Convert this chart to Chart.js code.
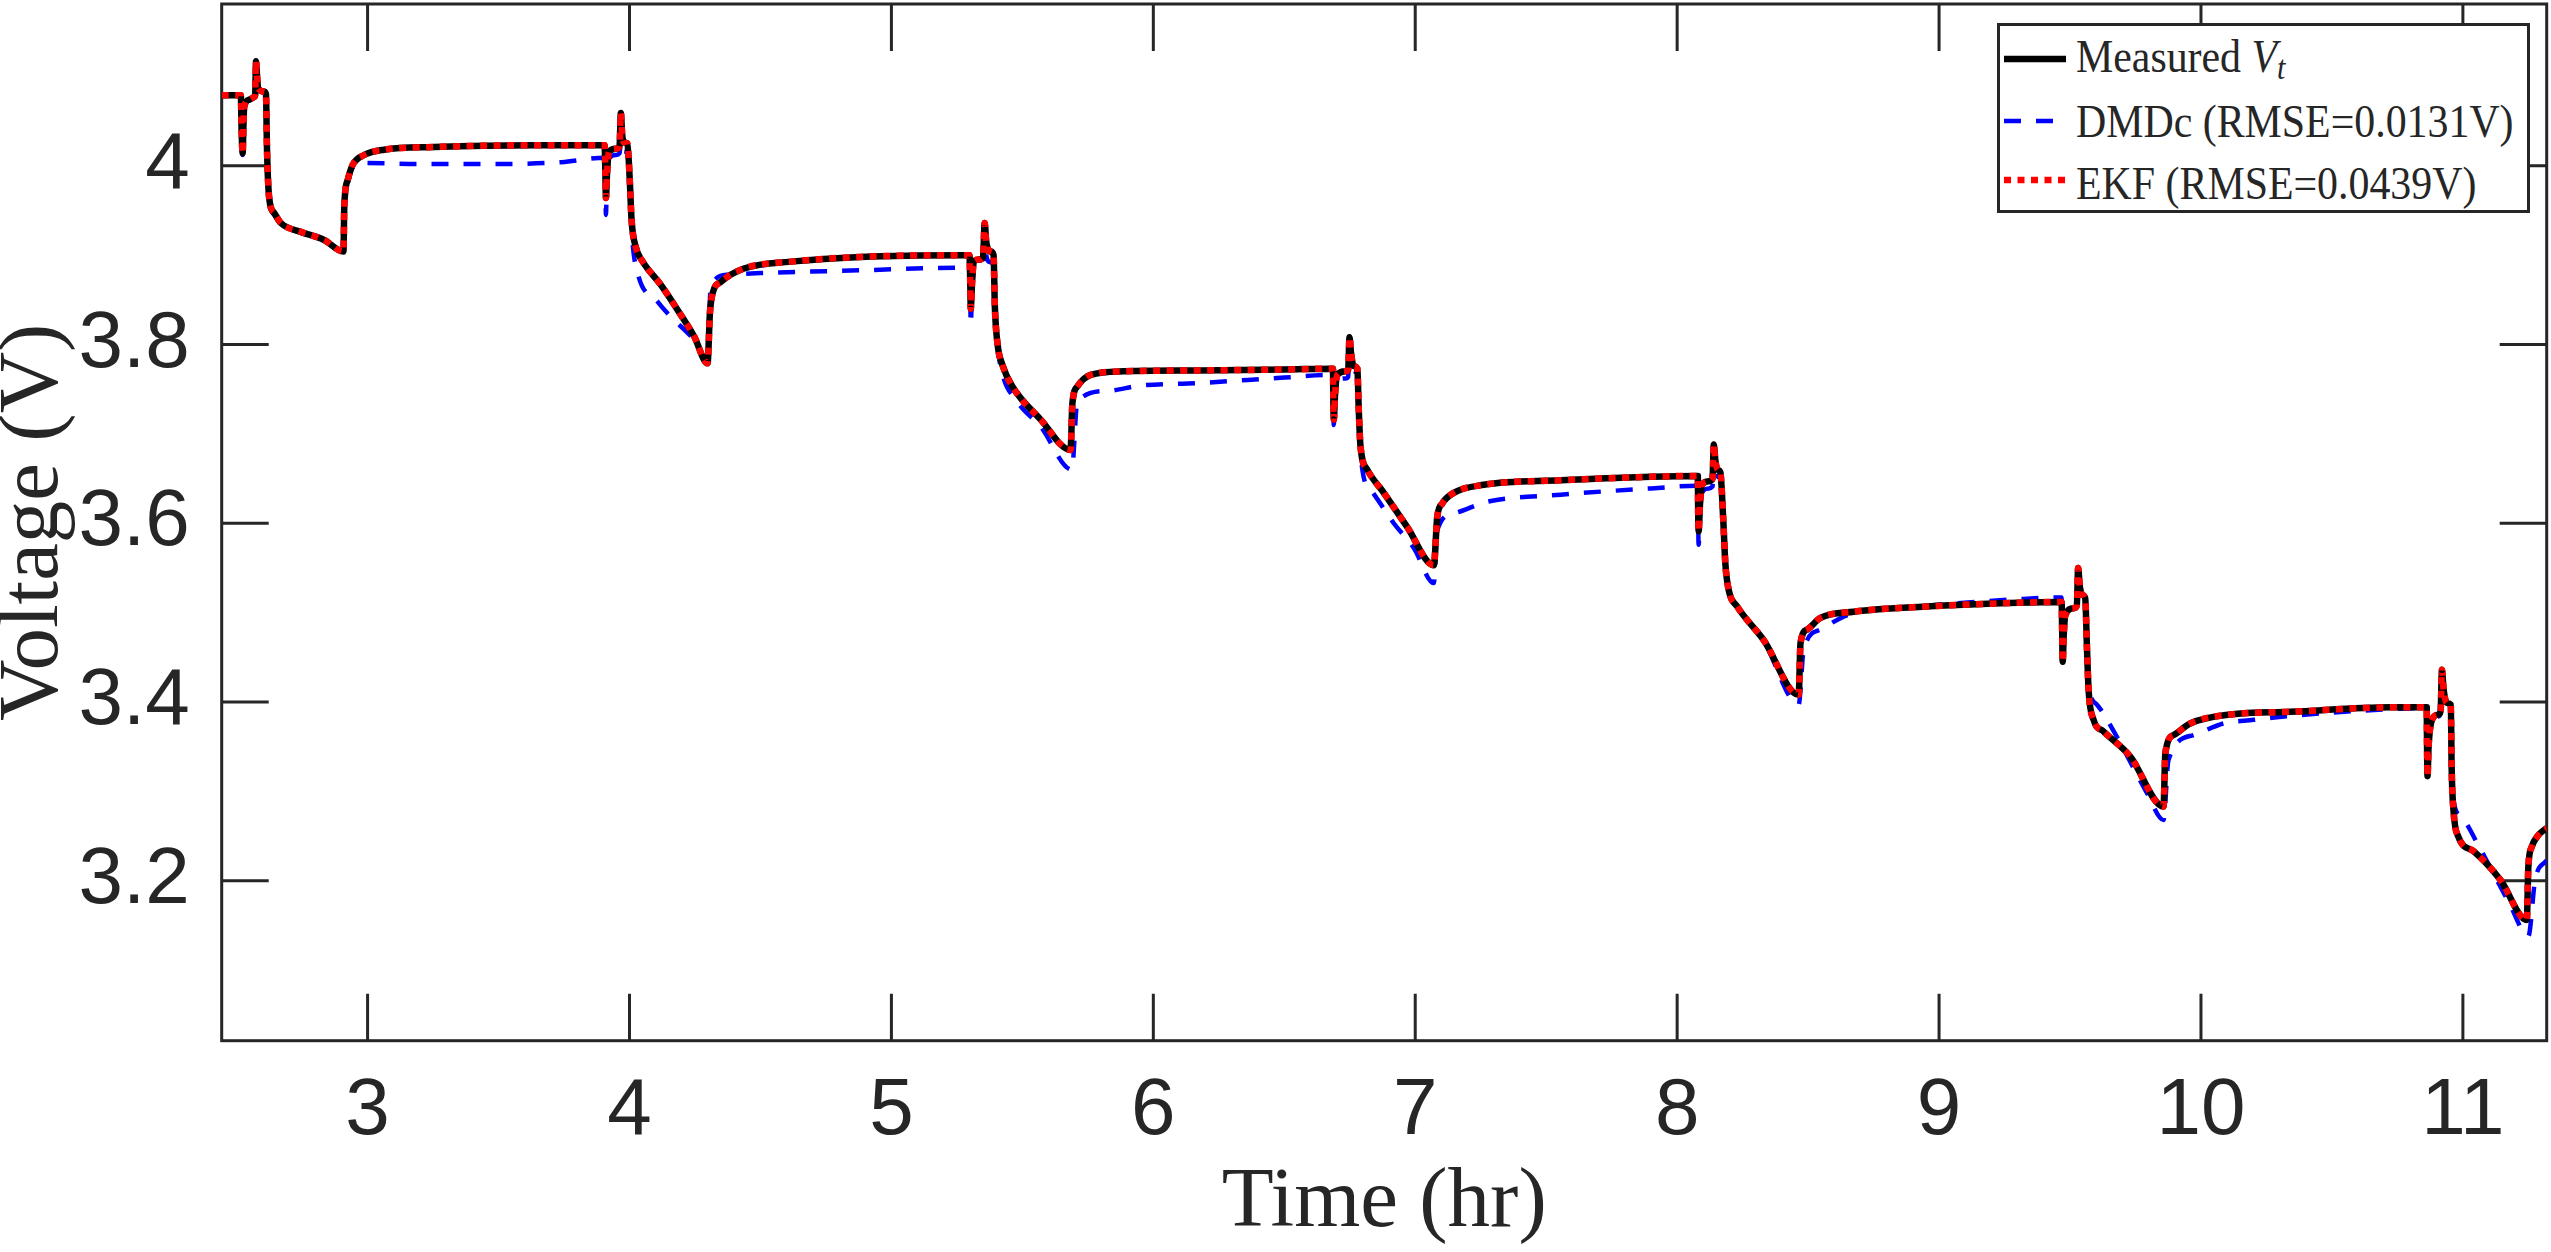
<!DOCTYPE html>
<html>
<head>
<meta charset="utf-8">
<title>Voltage vs time</title>
<script src="https://cdn.jsdelivr.net/npm/chart.js@4.4.1/dist/chart.umd.min.js"></script>
<style>
  html, body { margin: 0; padding: 0; background: #fff; }
  #wrap { position: relative; width: 2551px; height: 1252px; }
  #legend {
    position: absolute; left: 1997px; top: 23px; width: 533px; height: 190px;
    box-sizing: border-box; border: 3px solid #262626; background: #fff;
    font-family: "Liberation Serif", "Times New Roman", serif; color: #262626;
  }
  #legend svg { position: absolute; left: 4px; }
  #legend .txt {
    position: absolute; left: 76px; font-size: 46px; line-height: 46px;
    white-space: nowrap; transform: scaleX(0.91); transform-origin: left center;
  }
  #legend sub { font-size: 0.72em; line-height: 0; vertical-align: -0.22em; font-style: italic; }
</style>
</head>
<body>
<div id="wrap">
  <canvas id="chart" width="2551" height="1252" style="width:2551px;height:1252px"></canvas>
  <div id="legend">
    <svg style="top:23px" width="62" height="20"><line x1="0" y1="10" x2="62" y2="10" stroke="#000" stroke-width="6.5"/></svg>
    <span class="txt" style="top:8px">Measured <i>V</i><sub>t</sub></span>
    <svg style="top:85px" width="62" height="20"><line x1="0" y1="10" x2="62" y2="10" stroke="#0000ff" stroke-width="4.5" stroke-dasharray="17 15"/></svg>
    <span class="txt" style="top:73px">DMDc (RMSE=0.0131V)</span>
    <svg style="top:144px" width="62" height="20"><line x1="0" y1="10" x2="62" y2="10" stroke="#ff0000" stroke-width="6.5" stroke-dasharray="7 6.5"/></svg>
    <span class="txt" style="top:135px">EKF (RMSE=0.0439V)</span>
  </div>
</div>
<script>
// time (hr) and voltage (V)
const timeMeasured = [
  2.443, 2.516, 2.519, 2.523, 2.526, 2.529, 2.548, 2.567, 2.571, 2.574, 2.578, 2.582, 2.605, 2.612,
  2.616, 2.624, 2.644, 2.669, 2.745, 2.834, 2.908, 2.911, 2.924, 2.943, 2.987, 3.063, 3.254, 3.636,
  3.905, 3.908, 3.910, 3.914, 3.922, 3.948, 3.962, 3.967, 3.972, 3.980, 3.992, 4.001, 4.008, 4.024,
  4.050, 4.119, 4.183, 4.247, 4.298, 4.307, 4.317, 4.349, 4.437, 4.628, 4.883, 5.264, 5.298, 5.301,
  5.303, 5.308, 5.315, 5.334, 5.350, 5.356, 5.362, 5.370, 5.379, 5.390, 5.395, 5.405, 5.424, 5.462,
  5.570, 5.684, 5.691, 5.710, 5.761, 5.888, 6.181, 6.500, 6.686, 6.687, 6.689, 6.694, 6.702, 6.734,
  6.744, 6.749, 6.755, 6.765, 6.779, 6.784, 6.791, 6.817, 6.880, 6.969, 7.071, 7.084, 7.103, 7.147,
  7.262, 7.555, 7.900, 8.079, 8.080, 8.082, 8.087, 8.095, 8.121, 8.135, 8.140, 8.146, 8.155, 8.165,
  8.176, 8.184, 8.197, 8.229, 8.331, 8.464, 8.471, 8.496, 8.547, 8.674, 8.967, 9.300, 9.468, 9.470,
  9.472, 9.476, 9.482, 9.514, 9.526, 9.531, 9.537, 9.547, 9.558, 9.565, 9.571, 9.590, 9.628, 9.730,
  9.857, 9.864, 9.896, 9.959, 10.112, 10.341, 10.723, 10.862, 10.863, 10.865, 10.869, 10.882, 10.907,
  10.915, 10.920, 10.926, 10.939, 10.954, 10.957, 10.964, 10.983, 11.041, 11.143, 11.244, 11.250,
  11.263, 11.288, 11.320
];
const voltMeasured = [
  4.079, 4.079, 4.040, 4.014, 4.045, 4.066, 4.074, 4.077, 4.080, 4.117, 4.100, 4.087, 4.083, 4.080,
  4.018, 3.965, 3.947, 3.936, 3.926, 3.917, 3.904, 3.954, 3.984, 4.001, 4.012, 4.018, 4.021, 4.023,
  4.023, 3.990, 3.964, 3.990, 4.016, 4.019, 4.022, 4.059, 4.035, 4.026, 4.025, 3.984, 3.939, 3.909,
  3.893, 3.867, 3.839, 3.809, 3.779, 3.835, 3.857, 3.870, 3.885, 3.893, 3.898, 3.900, 3.900, 3.870,
  3.840, 3.870, 3.893, 3.895, 3.898, 3.936, 3.915, 3.906, 3.904, 3.900, 3.842, 3.801, 3.777, 3.753,
  3.716, 3.682, 3.734, 3.753, 3.766, 3.770, 3.771, 3.772, 3.773, 3.745, 3.716, 3.745, 3.766, 3.770,
  3.772, 3.808, 3.790, 3.776, 3.773, 3.730, 3.686, 3.660, 3.634, 3.596, 3.553, 3.607, 3.622, 3.634,
  3.643, 3.648, 3.652, 3.653, 3.620, 3.591, 3.620, 3.643, 3.647, 3.650, 3.688, 3.670, 3.660, 3.657,
  3.604, 3.555, 3.525, 3.507, 3.469, 3.408, 3.466, 3.481, 3.494, 3.501, 3.507, 3.511, 3.512, 3.480,
  3.445, 3.475, 3.497, 3.505, 3.508, 3.550, 3.530, 3.520, 3.516, 3.458, 3.413, 3.380, 3.367, 3.339,
  3.283, 3.343, 3.363, 3.376, 3.386, 3.389, 3.394, 3.394, 3.355, 3.317, 3.350, 3.380, 3.386,
  3.390, 3.436, 3.415, 3.399, 3.397, 3.328, 3.279, 3.249, 3.233, 3.201, 3.156, 3.216,
  3.238, 3.251, 3.259
];
// EKF estimate sits on top of the measurement (same time stamps)
const voltEkf = [
  4.079, 4.079, 4.040, 4.014, 4.045, 4.066, 4.074, 4.077, 4.080, 4.117, 4.100, 4.087, 4.083, 4.080,
  4.018, 3.965, 3.947, 3.936, 3.926, 3.917, 3.904, 3.954, 3.984, 4.001, 4.012, 4.018, 4.021, 4.023,
  4.023, 3.990, 3.964, 3.990, 4.016, 4.019, 4.022, 4.059, 4.035, 4.026, 4.025, 3.984, 3.939, 3.909,
  3.893, 3.867, 3.839, 3.809, 3.779, 3.835, 3.857, 3.870, 3.885, 3.893, 3.898, 3.900, 3.900, 3.870,
  3.840, 3.870, 3.893, 3.895, 3.898, 3.936, 3.915, 3.906, 3.904, 3.900, 3.842, 3.801, 3.777, 3.753,
  3.716, 3.682, 3.734, 3.753, 3.766, 3.770, 3.771, 3.772, 3.773, 3.745, 3.716, 3.745, 3.766, 3.770,
  3.772, 3.808, 3.790, 3.776, 3.773, 3.730, 3.686, 3.660, 3.634, 3.596, 3.553, 3.607, 3.622, 3.634,
  3.643, 3.648, 3.652, 3.653, 3.620, 3.591, 3.620, 3.643, 3.647, 3.650, 3.688, 3.670, 3.660, 3.657,
  3.604, 3.555, 3.525, 3.507, 3.469, 3.408, 3.466, 3.481, 3.494, 3.501, 3.507, 3.511, 3.512, 3.480,
  3.445, 3.475, 3.497, 3.505, 3.508, 3.550, 3.530, 3.520, 3.516, 3.458, 3.413, 3.380, 3.367, 3.339,
  3.283, 3.343, 3.363, 3.376, 3.386, 3.389, 3.394, 3.394, 3.355, 3.317, 3.350, 3.380, 3.386,
  3.390, 3.436, 3.415, 3.399, 3.397, 3.328, 3.279, 3.249, 3.233, 3.201, 3.156, 3.216,
  3.238, 3.251, 3.259
];
const timeDmdc = [
  2.443, 2.516, 2.519, 2.523, 2.526, 2.529, 2.548, 2.567, 2.571, 2.574, 2.578, 2.582, 2.605, 2.612,
  2.616, 2.624, 2.644, 2.669, 2.745, 2.834, 2.908, 2.911, 2.924, 2.943, 2.987, 3.200, 3.500, 3.740,
  3.905, 3.908, 3.910, 3.914, 3.922, 3.948, 3.962, 3.967, 3.972, 3.980, 3.992, 4.001, 4.011, 4.031,
  4.107, 4.158, 4.247, 4.298, 4.310, 4.374, 4.501, 4.883, 5.264, 5.298, 5.301, 5.303, 5.308, 5.315,
  5.334, 5.350, 5.356, 5.362, 5.370, 5.379, 5.390, 5.395, 5.405, 5.417, 5.481, 5.570, 5.689, 5.710,
  5.824, 5.951, 6.181, 6.500, 6.686, 6.687, 6.689, 6.694, 6.702, 6.734, 6.744, 6.749, 6.755, 6.765,
  6.779, 6.784, 6.798, 6.836, 6.918, 6.995, 7.071, 7.084, 7.147, 7.275, 7.555, 7.900, 8.079, 8.080,
  8.082, 8.087, 8.095, 8.121, 8.135, 8.140, 8.146, 8.155, 8.165, 8.176, 8.184, 8.197, 8.229, 8.331,
  8.464, 8.483, 8.547, 8.649, 8.967, 9.300, 9.468, 9.470, 9.472, 9.476, 9.482, 9.514, 9.526, 9.531,
  9.537, 9.547, 9.558, 9.565, 9.571, 9.603, 9.679, 9.794, 9.857, 9.876, 9.972, 10.086, 10.201,
  10.328, 10.723, 10.862, 10.863, 10.865, 10.869, 10.882, 10.907, 10.915, 10.920, 10.926, 10.939,
  10.954, 10.957, 10.964, 10.994, 11.062, 11.177, 11.250, 11.276, 11.320
];
const voltDmdc = [
  4.079, 4.079, 4.040, 4.012, 4.045, 4.064, 4.073, 4.076, 4.079, 4.112, 4.098, 4.086, 4.082, 4.079,
  4.016, 3.962, 3.945, 3.935, 3.925, 3.916, 3.903, 3.950, 3.980, 3.998, 4.003, 4.002, 4.002, 4.004,
  4.009, 3.975, 3.945, 3.985, 4.008, 4.012, 4.014, 4.026, 4.020, 4.016, 4.015, 3.975, 3.917, 3.880,
  3.848, 3.831, 3.805, 3.783, 3.865, 3.878, 3.880, 3.883, 3.886, 3.886, 3.850, 3.822, 3.860, 3.883,
  3.884, 3.886, 3.915, 3.900, 3.893, 3.892, 3.888, 3.840, 3.800, 3.775, 3.736, 3.708, 3.660, 3.736,
  3.748, 3.754, 3.757, 3.763, 3.766, 3.740, 3.710, 3.740, 3.760, 3.762, 3.764, 3.799, 3.785, 3.770,
  3.768, 3.725, 3.660, 3.635, 3.600, 3.572, 3.533, 3.592, 3.611, 3.624, 3.632, 3.639, 3.642, 3.610,
  3.576, 3.610, 3.634, 3.639, 3.641, 3.676, 3.662, 3.652, 3.650, 3.600, 3.553, 3.524, 3.506, 3.468,
  3.397, 3.458, 3.481, 3.497, 3.508, 3.515, 3.517, 3.480, 3.445, 3.475, 3.497, 3.505, 3.508, 3.540,
  3.525, 3.518, 3.516, 3.460, 3.420, 3.397, 3.361, 3.298, 3.268, 3.335, 3.363, 3.376, 3.380,
  3.384, 3.392, 3.393, 3.355, 3.317, 3.350, 3.378, 3.384, 3.388, 3.425, 3.410, 3.398,
  3.396, 3.330, 3.290, 3.272, 3.238, 3.175, 3.138, 3.201, 3.223
];
const seriesNames = ["Measured Vt", "DMDc (RMSE=0.0131V)", "EKF (RMSE=0.0439V)"];
const xTickValues = [3, 4, 5, 6, 7, 8, 9, 10, 11];
const yTickValues = [3.2, 3.4, 3.6, 3.8, 4.0];

const axisColor = "#262626";
const tickLen = 47;

const toPoints = (ts, vs) => ts.map((t, i) => ({ x: t, y: vs[i] }));

// MATLAB style box with inward ticks on all four sides
const boxPlugin = {
  id: "matlabBox",
  beforeDatasetsDraw(chart) {
    const { ctx, chartArea: a, scales } = chart;
    ctx.save();
    ctx.strokeStyle = axisColor;
    ctx.lineWidth = 3;
    ctx.beginPath();
    scales.x.ticks.forEach(t => {
      const px = scales.x.getPixelForValue(t.value);
      ctx.moveTo(px, a.bottom); ctx.lineTo(px, a.bottom - tickLen);
      ctx.moveTo(px, a.top); ctx.lineTo(px, a.top + tickLen);
    });
    scales.y.ticks.forEach(t => {
      const py = scales.y.getPixelForValue(t.value);
      ctx.moveTo(a.left, py); ctx.lineTo(a.left + tickLen, py);
      ctx.moveTo(a.right, py); ctx.lineTo(a.right - tickLen, py);
    });
    ctx.stroke();
    ctx.strokeRect(a.left, a.top, a.right - a.left, a.bottom - a.top);
    ctx.restore();
  }
};

// keep the plot box where the figure has it: no extra room for tick labels
const noPad = s => { s.paddingTop = 0; s.paddingBottom = 0; s.paddingLeft = 0; s.paddingRight = 0; };

const lineDefaults = { pointRadius: 0, borderJoinStyle: "round", cubicInterpolationMode: "monotone", fill: false };

new Chart(document.getElementById("chart"), {
  type: "line",
  plugins: [boxPlugin],
  data: {
    datasets: [
      { ...lineDefaults, label: seriesNames[0], data: toPoints(timeMeasured, voltMeasured),
        borderColor: "#000000", borderWidth: 6.5, order: 2 },
      { ...lineDefaults, label: seriesNames[1], data: toPoints(timeDmdc, voltDmdc),
        borderColor: "#0000ff", borderWidth: 4.5, borderDash: [17, 15], order: 3 },
      { ...lineDefaults, label: seriesNames[2], data: toPoints(timeMeasured, voltEkf),
        borderColor: "#ff0000", borderWidth: 6.5, borderDash: [7, 6.5], order: 1 }
    ]
  },
  options: {
    responsive: false,
    devicePixelRatio: 1,
    animation: false,
    events: [],
    layout: { padding: { left: 0, top: 4, right: 4.3, bottom: 0 } },
    plugins: { legend: { display: false }, tooltip: { enabled: false } },
    scales: {
      x: {
        type: "linear", min: 2.443, max: 11.32,
        afterBuildTicks: s => { s.ticks = xTickValues.map(v => ({ value: v })); },
        afterFit: s => { s.height = 211.3; noPad(s); },
        grid: { display: false },
        border: { display: false },
        ticks: {
          color: axisColor, padding: 15, autoSkip: false, maxRotation: 0,
          font: { family: "Liberation Sans", size: 80 },
          callback: v => String(v)
        },
        title: {
          display: true, text: "Time (hr)", color: axisColor,
          font: { family: "Liberation Serif", size: 85, lineHeight: 1 },
          padding: { top: 0, bottom: 6 }
        }
      },
      y: {
        type: "linear", min: 3.021, max: 4.181,
        afterBuildTicks: s => { s.ticks = yTickValues.map(v => ({ value: v })); },
        afterFit: s => { s.width = 221.7; noPad(s); },
        grid: { display: false },
        border: { display: false },
        ticks: {
          color: axisColor, padding: 24,
          font: { family: "Liberation Sans", size: 80 },
          callback: v => String(+v.toFixed(1))
        },
        title: {
          display: true, text: "Voltage (V)", color: axisColor,
          font: { family: "Liberation Serif", size: 85, lineHeight: 0.6 },
          padding: { top: 9, bottom: 0 }
        }
      }
    }
  }
});
</script>
</body>
</html>
